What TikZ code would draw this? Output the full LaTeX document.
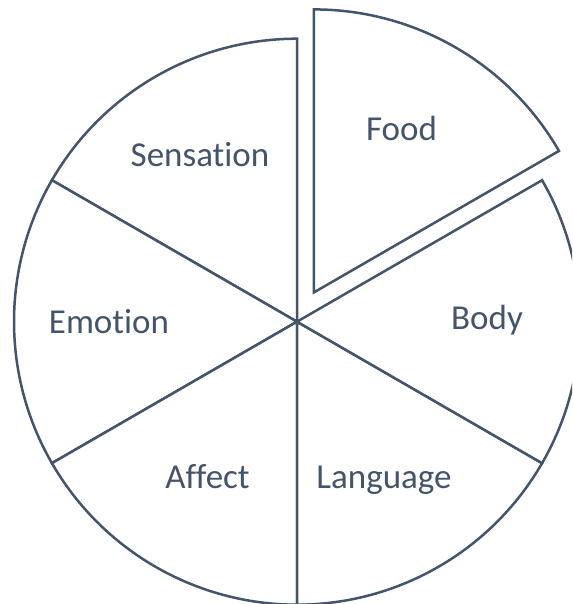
\documentclass[tikz,border=0pt]{standalone}
\usepackage{fontspec}
\setmainfont{Carlito}[Ligatures=NoCommon]
\usepackage{tikz}
\usetikzlibrary{calc}
\definecolor{slate}{HTML}{44546A}

\begin{document}
\begin{tikzpicture}[
  x=1pt, y=1pt,
  slice/.style={draw=slate, line width=2.5pt, line join=miter, fill=white},
  lbl/.style={anchor=base, text=slate, font=\fontsize{35}{42}\selectfont, inner sep=0pt},
]
\useasboundingbox (0,0) rectangle (572,604);
\clip (0,0) rectangle (572,604);

\coordinate (c) at (297,282.3);
\coordinate (cf) at ($(c)+(60:33.8)$);

% the five slices round the centre
\draw[slice] (c) -- ++(90:283) arc[start angle=90, end angle=150, radius=283] -- cycle;
\draw[slice] (c) -- ++(150:283) arc[start angle=150, end angle=210, radius=283] -- cycle;
\draw[slice] (c) -- ++(210:283) arc[start angle=210, end angle=270, radius=283] -- cycle;
\draw[slice] (c) -- ++(270:283) arc[start angle=270, end angle=330, radius=283] -- cycle;
\draw[slice] (c) -- ++(330:283) arc[start angle=330, end angle=390, radius=283] -- cycle;
% pulled-out slice
\draw[slice] (cf) -- ++(30:283) arc[start angle=30, end angle=90, radius=283] -- cycle;

\node[lbl] (food) at (401.5,463) {Food};
\node[lbl] (sensation) at (200,437) {Sensation};
\node[lbl] (emotion) at (109,270) {Emotion};
\node[lbl] (body) at (487,274) {Body};
\node[lbl] (affect) at (207.5,115) {Affect};
\node[lbl] (language) at (384,115) {Language};
\end{tikzpicture}
\end{document}
